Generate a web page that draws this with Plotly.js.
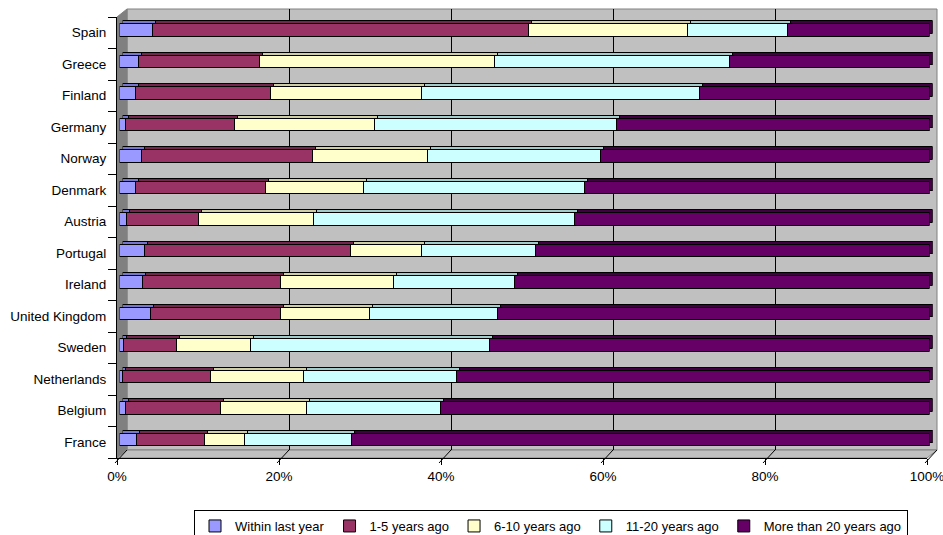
<!DOCTYPE html>
<html>
<head>
<meta charset="utf-8">
<script src="https://cdn.plot.ly/plotly-3.0.1.min.js"></script>
<style>
  html, body { margin: 0; padding: 0; background: #fff; }
  #chart { width: 943px; height: 535px; }
</style>
</head>
<body>
<div id="chart"></div>
<script>
// Share of respondents by time since event, per country (100% stacked)
const countries = ['Spain', 'Greece', 'Finland', 'Germany', 'Norway', 'Denmark', 'Austria',
  'Portugal', 'Ireland', 'United Kingdom', 'Sweden', 'Netherlands', 'Belgium', 'France'];
const withinLastYear = [4.1, 2.3, 2.0, 0.7, 2.7, 2.0, 0.8, 3.1, 2.8, 3.8, 0.5, 0.3, 0.7, 2.1];
const years1to5     = [46.4, 15.0, 16.6, 13.5, 21.1, 16.0, 8.9, 25.4, 17.1, 16.1, 6.5, 10.9, 11.7, 8.4];
const years6to10    = [19.6, 29.0, 18.7, 17.3, 14.2, 12.1, 14.2, 8.8, 13.9, 11.0, 9.1, 11.5, 10.7, 4.9];
const years11to20   = [12.4, 29.0, 34.3, 29.9, 21.4, 27.3, 32.2, 14.1, 14.9, 15.8, 29.6, 18.8, 16.5, 13.2];
const over20        = [17.5, 24.7, 28.4, 38.6, 40.6, 42.7, 43.9, 48.6, 51.3, 53.3, 54.3, 58.4, 60.4, 71.4];
const seriesNames = ['Within last year', '1-5 years ago', '6-10 years ago', '11-20 years ago', 'More than 20 years ago'];
const xTicks = [0, 20, 40, 60, 80, 100];

const seriesValues = [withinLastYear, years1to5, years6to10, years11to20, over20];
const faceColors = ['#9999FF', '#993366', '#FFFFCC', '#CCFFFF', '#660066'];
const depthColors = ['#7676D0', '#74264D', '#CFCFA3', '#A0CCCC', '#420042'];

// page geometry (pixels)
const W = 943, H = 535;
const M = { l: 117, r: 6, t: 9, b: 77 };
const PW = W - M.l - M.r, PH = H - M.t - M.b;
const frontRight = 927, frontTop = 17, floorY = H - M.b;
const fx = px => (px - M.l) / PW;
const fy = py => (floorY - py) / PH;
// a plotting frame pushed back into the 3-D depth by (dx, dy) pixels
function frame(dx, dy) {
  return {
    x: [fx(M.l + dx), fx(frontRight + dx)],
    y: [fy(floorY - dy), fy(frontTop - dy)]
  };
}
const fWall = frame(10, 8);     // back wall with gridlines
const fDepth = frame(5.6, 5.7); // rear faces of the bars
const fFace = frame(2.6, 2.7);  // front faces of the bars
const fAxes = frame(0, 0);      // front axes with ticks and labels
const wallLeft = M.l + 10, wallBottom = floorY - 8;

const catRange = [countries.length - 0.5, -0.5];
const font = 'Liberation Sans, Arial, sans-serif';

const traces = [];
traces.push({ type: 'scatter', x: [], y: [], xaxis: 'x', yaxis: 'y', showlegend: false, hoverinfo: 'skip' });
seriesValues.forEach((vals, i) => {
  traces.push({
    type: 'bar', orientation: 'h', y: countries, x: vals, width: 0.4,
    xaxis: 'x2', yaxis: 'y2', showlegend: false, hoverinfo: 'skip',
    marker: { color: depthColors[i], line: { color: '#000', width: 1 } }
  });
});
seriesValues.forEach((vals, i) => {
  traces.push({
    type: 'bar', orientation: 'h', y: countries, x: vals, width: 0.4, name: seriesNames[i],
    xaxis: 'x3', yaxis: 'y3',
    marker: { color: faceColors[i], line: { color: '#000', width: 1 } }
  });
});
traces.push({ type: 'scatter', x: [], y: [], xaxis: 'x4', yaxis: 'y4', showlegend: false, hoverinfo: 'skip' });

const hiddenLinear = { range: [0, 100], visible: false, fixedrange: true };
const hiddenCat = { type: 'category', range: catRange, visible: false, fixedrange: true };

const shapes = [
  // back wall
  { type: 'rect', xref: 'paper', yref: 'paper', layer: 'below',
    x0: fx(wallLeft), x1: fx(M.l + PW), y0: fy(wallBottom), y1: 1,
    fillcolor: '#C0C0C0', line: { color: '#808080', width: 1 } },
  // left side wall
  { type: 'path', xref: 'paper', yref: 'paper', layer: 'below',
    path: `M${fx(M.l)},${fy(frontTop)} L${fx(wallLeft)},${fy(M.t)} L${fx(wallLeft)},${fy(wallBottom)} L${fx(M.l)},${fy(floorY)} Z`,
    fillcolor: '#808080', line: { color: '#808080', width: 1 } },
  // floor
  { type: 'path', xref: 'paper', yref: 'paper', layer: 'below',
    path: `M${fx(M.l)},${fy(floorY)} L${fx(wallLeft)},${fy(wallBottom)} L${fx(M.l + PW)},${fy(wallBottom)} L${fx(frontRight)},${fy(floorY)} Z`,
    fillcolor: '#C0C0C0', line: { color: '#808080', width: 1 } }
];
// floor lines running back from each value tick, placed along the front axis
const axisSpan = fAxes.x[1] - fAxes.x[0];
xTicks.forEach(t => {
  const x0 = fAxes.x[0] + axisSpan * t / 100;
  shapes.push({ type: 'line', xref: 'paper', yref: 'paper', layer: 'above',
    x0: x0 - 2 / PW, y0: fy(floorY + 5), x1: x0 + 10 / PW, y1: fy(wallBottom),
    line: { color: '#000', width: 1 } });
});

const layout = {
  width: W, height: H,
  margin: { l: M.l, r: M.r, t: M.t, b: M.b, pad: 0, autoexpand: false },
  paper_bgcolor: '#fff', plot_bgcolor: 'rgba(0,0,0,0)',
  font: { family: font, size: 13.5, color: '#000' },
  barmode: 'stack', barnorm: 'percent',
  showlegend: true,
  legend: {
    orientation: 'h', x: fx(194), xanchor: 'left', y: fy(510), yanchor: 'top',
    bgcolor: '#fff', bordercolor: '#000', borderwidth: 1,
    font: { family: font, size: 13, color: '#000' }, traceorder: 'normal'
  },
  xaxis: {
    domain: fWall.x, anchor: 'y', range: [0, 100], tickmode: 'array',
    tickvals: xTicks.slice(1, -1), showticklabels: false, ticks: '', showline: false,
    showgrid: true, gridcolor: '#000', gridwidth: 1, zeroline: false, fixedrange: true
  },
  yaxis: { domain: fWall.y, anchor: 'x', range: [0, 1], visible: false, fixedrange: true },
  xaxis2: Object.assign({ domain: fDepth.x, anchor: 'y2' }, hiddenLinear),
  yaxis2: Object.assign({ domain: fDepth.y, anchor: 'x2' }, hiddenCat),
  xaxis3: Object.assign({ domain: fFace.x, anchor: 'y3' }, hiddenLinear),
  yaxis3: Object.assign({ domain: fFace.y, anchor: 'x3' }, hiddenCat),
  xaxis4: {
    domain: fAxes.x, anchor: 'y4', range: [0, 100], tickmode: 'array', tickvals: xTicks,
    ticktext: xTicks.map(t => t + '%'), ticks: 'outside', ticklen: 6, tickcolor: '#000', tickwidth: 1,
    ticklabeloverflow: 'allow',
    showline: true, linecolor: '#000', linewidth: 1, showgrid: false, zeroline: false,
    tickfont: { size: 13.5 }, fixedrange: true
  },
  yaxis4: {
    domain: fAxes.y, anchor: 'x4', range: catRange, tickmode: 'array',
    tickvals: countries.map((_, i) => i), ticktext: countries,
    ticks: 'outside', ticklen: 7, tickcolor: 'rgba(0,0,0,0)',
    minor: { tickmode: 'array', tickvals: countries.concat(['']).map((_, i) => i - 0.5),
      ticks: 'outside', ticklen: 8, tickcolor: '#000', tickwidth: 1, showgrid: false },
    showline: true, linecolor: '#000', linewidth: 1, showgrid: false, zeroline: false,
    tickfont: { size: 13.5 }, fixedrange: true
  },
  shapes: shapes
};

Plotly.newPlot('chart', traces, layout, { staticPlot: true, displayModeBar: false });
</script>
</body>
</html>
